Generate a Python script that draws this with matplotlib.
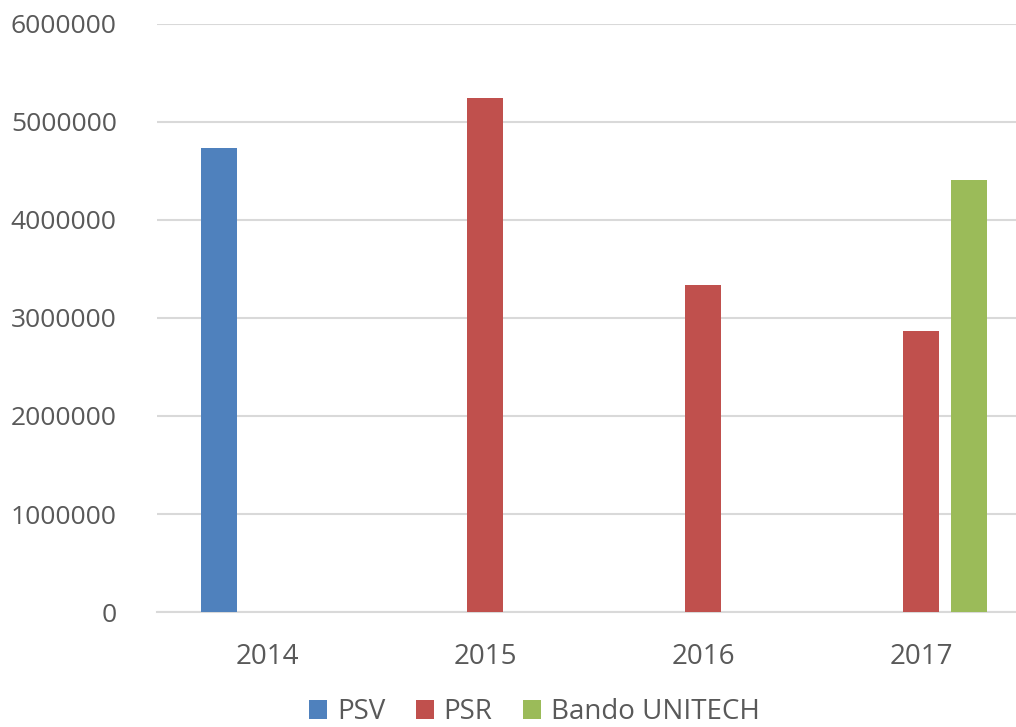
import numpy as np
import matplotlib
matplotlib.use("Agg")
import matplotlib.pyplot as plt

plt.rcParams['font.family'] = ['Open Sans', 'DejaVu Sans']

years = ["2014", "2015", "2016", "2017"]
series_names = ["PSV", "PSR", "Bando UNITECH"]
psv = [4730000, 0, 0, 0]
psr = [0, 5240000, 3335000, 2865000]
bando = [0, 0, 0, 4405000]
colors = ["#4f81bd", "#c0504d", "#9bbb59"]

text_color = "#595959"
grid_color = "#d9d9d9"

fig = plt.figure(figsize=(10.16, 7.27), dpi=100)
ax = fig.add_axes([157 / 1016, 115 / 727, 1 - 157 / 1016, (612 - 24) / 727])

x = np.arange(len(years))
width = 0.165
offset = 0.22
for i, (name, vals) in enumerate(zip(series_names, [psv, psr, bando])):
    ax.bar(x + (i - 1) * offset, vals, width, color=colors[i], label=name, zorder=3)

ax.set_ylim(0, 6000000)
ax.set_xlim(-0.505, 3.436)
ax.set_yticks(np.arange(0, 6000001, 1000000))
ax.set_yticklabels([str(v) for v in range(0, 6000001, 1000000)])
ax.set_xticks(x)
ax.set_xticklabels(years)

ax.grid(axis="y", color=grid_color, linewidth=1.5, zorder=0)
for s in ["top", "right", "left"]:
    ax.spines[s].set_visible(False)
ax.spines["bottom"].set_color(grid_color)
ax.spines["bottom"].set_linewidth(1.5)
ax.tick_params(axis="both", length=0, labelsize=20, labelcolor=text_color)
ax.tick_params(axis="y", labelsize=19, pad=29)
ax.tick_params(axis="x", pad=22)

fig.legend(loc="lower center", bbox_to_anchor=(0.526, -0.033), ncol=3, frameon=False,
           fontsize=20, labelcolor=text_color, handlelength=0.65, handleheight=0.65,
           handletextpad=0.35, columnspacing=1.1)

fig.savefig("out.png", dpi=100)
